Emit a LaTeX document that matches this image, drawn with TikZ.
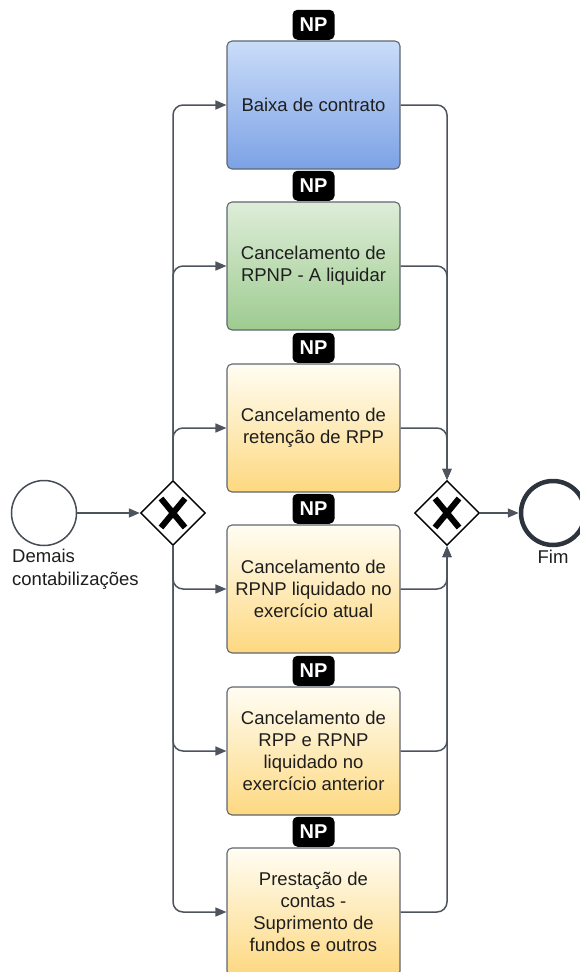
\documentclass[tikz,border=0pt]{standalone}
\usepackage{fontspec}
\setmainfont{Liberation Sans}
\usetikzlibrary{arrows.meta,shapes.geometric}
\definecolor{ln}{RGB}{78,84,94}
\definecolor{bdr}{RGB}{96,102,112}
\definecolor{bluetop}{RGB}{202,220,249}
\definecolor{bluebot}{RGB}{124,162,229}
\definecolor{greentop}{RGB}{222,237,216}
\definecolor{greenbot}{RGB}{158,203,144}
\definecolor{yeltop}{RGB}{255,253,243}
\definecolor{yelbot}{RGB}{253,216,128}
\definecolor{txt}{RGB}{30,30,30}
\definecolor{endc}{RGB}{45,52,62}
\begin{document}
\begin{tikzpicture}[x=1pt,y=-1pt,
  task/.style={draw=bdr, line width=1.1pt, rounded corners=5pt, minimum width=173pt, minimum height=128pt, align=center, font=\fontsize{18.5}{22}\selectfont, text=txt, inner sep=0pt},
  taskblue/.style={task, top color=bluetop, bottom color=bluebot},
  taskgreen/.style={task, top color=greentop, bottom color=greenbot},
  taskyel/.style={task, top color=yeltop, bottom color=yelbot},
  npbadge/.style={fill=black, rounded corners=5pt, minimum width=42pt, minimum height=30pt, text=white, font=\fontsize{20}{20}\selectfont\bfseries, inner sep=0pt},
  gw/.style={diamond, draw=black, line width=1.4pt, fill=white, minimum width=65pt, minimum height=65pt, inner sep=0pt},
  xmark/.style={line width=6pt, black},
  flow/.style={draw=ln, line width=1.5pt, rounded corners=10pt, -{Triangle[length=11pt,width=9pt]}},
  lbl/.style={font=\fontsize{18.5}{23}\selectfont, text=txt, inner sep=0pt, align=left}
]
\useasboundingbox (0,0) rectangle (580,972);

% tasks
\node[taskblue]  (b1) at (313.5,105) {Baixa de contrato};
\node[taskgreen] (b2) at (313.5,266) {Cancelamento de\\RPNP - A liquidar};
\node[taskyel]   (b3) at (313.5,428) {Cancelamento de\\retenção de RPP};
\node[taskyel]   (b4) at (313.5,589) {Cancelamento de\\RPNP liquidado no\\exercício atual};
\node[taskyel]   (b5) at (313.5,751) {Cancelamento de\\RPP e RPNP\\liquidado no\\exercício anterior};
\node[taskyel]   (b6) at (313.5,912) {Prestação de\\contas -\\Suprimento de\\fundos e outros};

% badges
\foreach \b in {1,...,6}{
  \node[npbadge, anchor=south] (np\b) at ([yshift=0.5pt]b\b.north) {NP};
}

% events
\node[circle, draw=ln!90!black, line width=1.5pt, fill=white, minimum size=65pt, inner sep=0pt] (s) at (44,513) {};
\node[lbl, anchor=north west] (sl) at (12,549) {Demais\\contabilizações};
\node[circle, draw=endc, line width=4.5pt, fill=white, minimum size=64pt, inner sep=0pt] (e) at (553,513) {};
\node[lbl, anchor=north] (el) at (553,550) {Fim};

% gateways
\node[gw] (g1) at (173,513) {};
\node[gw] (g2) at (447,513) {};
\foreach \g in {g1,g2}{
  \draw[xmark] (\g.center) ++(-12,-14.5) -- ++(24,29);
  \draw[xmark] (\g.center) ++(12,-14.5) -- ++(-24,29);
}

% flows
\draw[flow] (s.east) -- (g1.west);
\draw[flow] (g1.north) |- (b1.west);
\draw[flow] (g1.north) |- (b2.west);
\draw[flow] (g1.north) |- (b3.west);
\draw[flow] (g1.south) |- (b4.west);
\draw[flow] (g1.south) |- (b5.west);
\draw[flow] (g1.south) |- (b6.west);
\draw[flow] (b1.east) -| (g2.north);
\draw[flow] (b2.east) -| (g2.north);
\draw[flow] (b3.east) -| (g2.north);
\draw[flow] (b4.east) -| (g2.south);
\draw[flow] (b5.east) -| (g2.south);
\draw[flow] (b6.east) -| (g2.south);
\draw[flow] (g2.east) -- (e.west);
\end{tikzpicture}
\end{document}
